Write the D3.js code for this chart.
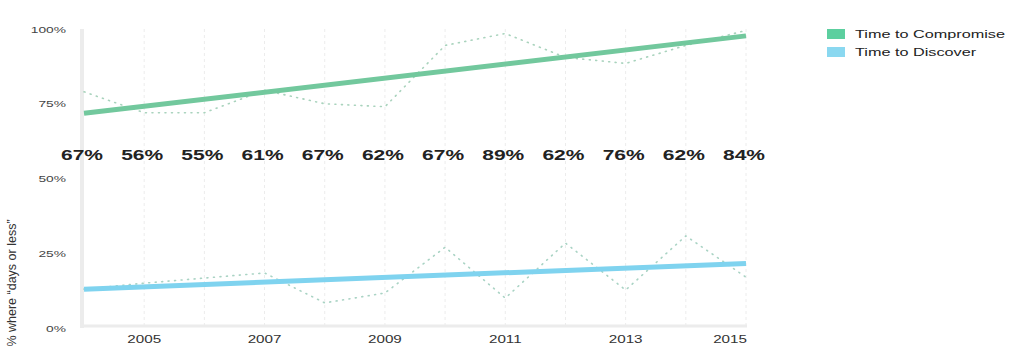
<!DOCTYPE html>
<html>
<head>
<meta charset="utf-8">
<script src="https://cdn.jsdelivr.net/npm/d3@7"></script>
<style>
  html, body { margin: 0; padding: 0; background: #fff; }
  svg { display: block; font-family: "Liberation Sans", Arial, sans-serif; }
</style>
</head>
<body>
<svg id="chart" width="1024" height="359"></svg>
<script>
const years = [2004, 2005, 2006, 2007, 2008, 2009, 2010, 2011, 2012, 2013, 2014, 2015];
const compromise = [79, 72, 72, 79.5, 75, 74, 94.5, 98.5, 90.5, 88.5, 94.5, 99.5];
const discover = [13, 15, 16.7, 18.4, 8.4, 11.7, 27, 10, 28.4, 12.7, 30.8, 17];
const trendYears = [2004, 2015];
const compromiseTrend = [71.8, 97.7];
const discoverTrend = [13.0, 21.6];
const rowLabels = ["67%", "56%", "55%", "61%", "67%", "62%", "67%", "89%", "62%", "76%", "62%", "84%"];
const yTicks = [0, 25, 50, 75, 100];
const xTicks = [2005, 2007, 2009, 2011, 2013, 2015];
const seriesNames = ["Time to Compromise", "Time to Discover"];
const yTitle = "% where \u201cdays or less\u201d";

const svg = d3.select("#chart");
const x = d3.scaleLinear().domain([2004, 2015]).range([84, 746]);
const y = d3.scaleLinear().domain([0, 100]).range([328, 29]);
const SX = 1.45;

// grid
svg.append("g").selectAll("line").data(years.slice(1)).join("line")
  .attr("x1", d => x(d)).attr("x2", d => x(d))
  .attr("y1", y(100)).attr("y2", y(0) - 2)
  .attr("stroke", "#ececec").attr("stroke-width", 1).attr("stroke-dasharray", "3,3");

// axes bars
svg.append("line").attr("x1", 82).attr("x2", 82).attr("y1", y(100)).attr("y2", y(0))
  .attr("stroke", "#ececec").attr("stroke-width", 4);
svg.append("line").attr("x1", 80).attr("x2", x(2015) + 1).attr("y1", y(0) - 2).attr("y2", y(0) - 2)
  .attr("stroke", "#ececec").attr("stroke-width", 3);

// y tick labels
svg.append("g").selectAll("g").data(yTicks).join("g")
  .attr("transform", d => `translate(66,${y(d) + 3.5}) scale(${SX},1)`)
  .append("text").attr("text-anchor", "end").attr("font-size", 9.5).attr("fill", "#444")
  .text(d => d + "%");

// x tick labels
svg.append("g").selectAll("g").data(xTicks).join("g")
  .attr("transform", d => `translate(${d === 2015 ? x(d) + 1 : x(d)},343) scale(${SX},1)`)
  .append("text").attr("text-anchor", d => d === 2015 ? "end" : "middle")
  .attr("font-size", 10.5).attr("fill", "#333").text(d => d);

// y title
svg.append("text").attr("transform", "translate(16,283) rotate(-90)")
  .attr("text-anchor", "middle").attr("font-size", 12.5).attr("fill", "#333")
  .text(yTitle);

// dotted data lines
const line = d3.line().x((d, i) => x(years[i])).y(d => y(d));
svg.append("path").attr("d", line(compromise)).attr("fill", "none")
  .attr("stroke", "#a9d3bd").attr("stroke-width", 1.6).attr("stroke-dasharray", "1,5.5")
  .attr("stroke-linecap", "round");
svg.append("path").attr("d", line(discover)).attr("fill", "none")
  .attr("stroke", "#a9d3c4").attr("stroke-width", 1.6).attr("stroke-dasharray", "1,5.5")
  .attr("stroke-linecap", "round");

// trend lines
const tline = d3.line().x((d, i) => x(trendYears[i])).y(d => y(d));
svg.append("path").attr("d", tline(compromiseTrend)).attr("fill", "none")
  .attr("stroke", "#72c89d").attr("stroke-width", 5);
svg.append("path").attr("d", tline(discoverTrend)).attr("fill", "none")
  .attr("stroke", "#7fd3ef").attr("stroke-width", 5);

// row labels
svg.append("g").selectAll("g").data(rowLabels).join("g")
  .attr("transform", (d, i) => `translate(${x(years[i]) - 2},160) scale(1.5,1)`)
  .append("text").attr("text-anchor", "middle").attr("font-size", 14)
  .attr("font-weight", "bold").attr("fill", "#222").text(d => d);

// legend
const legColors = ["#5ccf9f", "#8ad8f0"];
const leg = svg.append("g").selectAll("g").data(seriesNames).join("g")
  .attr("transform", (d, i) => `translate(827,${29 + i * 18})`);
leg.append("rect").attr("width", 18).attr("height", 10).attr("fill", (d, i) => legColors[i]);
leg.append("g").attr("transform", `translate(28,9) scale(${SX},1)`)
  .append("text").attr("font-size", 11.2).attr("fill", "#222").text(d => d);
</script>
</body>
</html>
